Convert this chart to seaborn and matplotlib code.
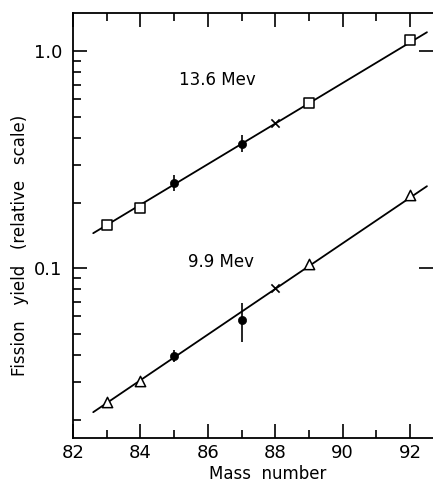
import matplotlib
matplotlib.use("Agg")
import matplotlib.pyplot as plt
import seaborn as sns
from matplotlib.ticker import LogLocator, NullFormatter, FixedLocator

sns.set_style("ticks")
plt.rcParams['font.family'] = ['DejaVu Sans']
plt.rcParams['text.color'] = 'black'
plt.rcParams['xtick.color'] = 'black'
plt.rcParams['ytick.color'] = 'black'

# 13.6 MeV series
hi_sq_x = [83, 84, 89, 92]
hi_sq_y = [0.158, 0.189, 0.576, 1.124]
hi_dot_x = [85, 87]
hi_dot_y = [0.246, 0.373]
hi_err_lo = [0.226, 0.343]
hi_err_hi = [0.268, 0.410]
hi_cross_x = [88]
hi_cross_y = [0.466]
hi_line_x = [82.6, 92.5]
hi_line_y = [0.145, 1.223]

# 9.9 MeV series
lo_tri_x = [83, 84, 89, 92]
lo_tri_y = [0.0241, 0.0301, 0.1043, 0.217]
lo_dot_x = [85, 87]
lo_dot_y = [0.0393, 0.0576]
lo_err_lo = [0.0369, 0.0456]
lo_err_hi = [0.0419, 0.069]
lo_cross_x = [88]
lo_cross_y = [0.0809]
lo_line_x = [82.6, 92.5]
lo_line_y = [0.0217, 0.2387]

fig = plt.figure(figsize=(4.33, 4.82), dpi=100)
ax = fig.add_axes([0.1686, 0.0913, 0.8314, 0.8817])

for lx, ly in [(hi_line_x, hi_line_y), (lo_line_x, lo_line_y)]:
    sns.lineplot(x=lx, y=ly, color='black', lw=1.3, ax=ax)

for x, lo, hi in zip(hi_dot_x + lo_dot_x, hi_err_lo + lo_err_lo, hi_err_hi + lo_err_hi):
    ax.vlines(x, lo, hi, color='black', lw=1.2, zorder=3)

sns.scatterplot(x=hi_sq_x, y=hi_sq_y, marker='s', s=45, facecolor='white',
                edgecolor='black', linewidth=1.1, ax=ax, zorder=4)
sns.scatterplot(x=lo_tri_x, y=lo_tri_y, marker='^', s=55, facecolor='white',
                edgecolor='black', linewidth=1.1, ax=ax, zorder=4)
sns.scatterplot(x=hi_dot_x + lo_dot_x, y=hi_dot_y + lo_dot_y, marker='o', s=35,
                color='black', edgecolor='black', ax=ax, zorder=4)
sns.scatterplot(x=hi_cross_x + lo_cross_x, y=hi_cross_y + lo_cross_y, marker='x',
                s=35, color='black', linewidth=1.2, ax=ax, zorder=4)

ax.text(86.27, 0.735, '13.6 Mev', ha='center', va='center', fontsize=12)
ax.text(86.4, 0.1066, '9.9 Mev', ha='center', va='center', fontsize=12)

ax.set_yscale('log')
ax.set_xlim(82, 92.68)
ax.set_ylim(0.0165, 1.50)

ax.set_xticks([82, 84, 86, 88, 90, 92])
ax.xaxis.set_minor_locator(FixedLocator([83, 85, 87, 89, 91]))
ax.set_yticks([0.1, 1.0])
ax.set_yticklabels(['0.1', '1.0'])
ax.yaxis.set_minor_locator(LogLocator(base=10, subs=range(2, 10)))
ax.yaxis.set_minor_formatter(NullFormatter())

ax.tick_params(axis='both', which='major', direction='in', length=10, width=1.2,
               labelsize=13, pad=8, color='black')
ax.tick_params(axis='both', which='minor', direction='in', length=6, width=1.2)
ax.tick_params(axis='x', which='both', top=True)
ax.tick_params(axis='y', which='major', right=True)
ax.tick_params(axis='y', which='minor', right=False)
ax.tick_params(axis='x', which='major', pad=4)

for side in ['left', 'bottom', 'top']:
    ax.spines[side].set_linewidth(1.3)
    ax.spines[side].set_color('black')
ax.spines['right'].set_visible(False)

fig.text(268 / 433, 1 - 474 / 482, 'Mass  number', fontsize=12,
         ha='center', va='center')
fig.text(20 / 433, 1 - 245 / 482, 'Fission   yield   (relative   scale)',
         fontsize=12, rotation=90, ha='center', va='center')

fig.savefig('out.png', dpi=100)
